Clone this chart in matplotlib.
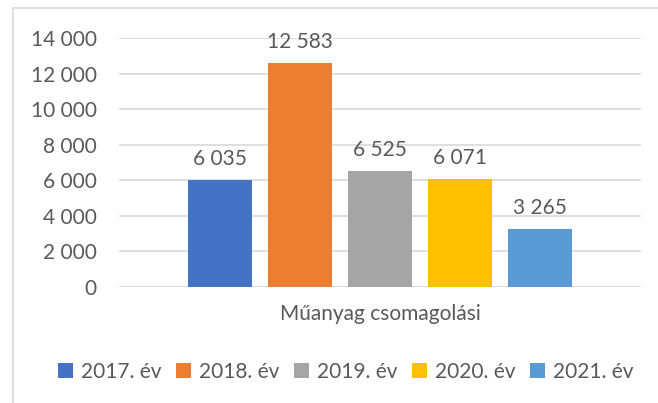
import numpy as np
import matplotlib.pyplot as plt
from matplotlib.patches import Rectangle
from matplotlib.ticker import FuncFormatter

plt.rcParams['font.family'] = ['Lato', 'DejaVu Sans']

# adatok
evek = ['2017. év', '2018. év', '2019. év', '2020. év', '2021. év']
ertekek = [6035, 12583, 6525, 6071, 3265]
kategoria = 'Műanyag csomagolási'
szinek = ['#4472C4', '#ED7D31', '#A5A5A5', '#FFC000', '#5B9BD5']
szoveg = '#595959'
fs = 15


def ezres(v):
    return f'{int(v):,}'.replace(',', ' ')


W, H = 658, 403
fig = plt.figure(figsize=(W / 100, H / 100), dpi=100)
ax = fig.add_axes([119 / W, 1 - 287 / H, (641 - 119) / W, (287 - 38) / H])

lepes = 80 / 522
szel = 64 / 522
for i, (ev, v, c) in enumerate(zip(evek, ertekek, szinek)):
    x = (i - 2) * lepes
    ax.bar(x, v, width=szel, color=c, label=ev, zorder=2)
    ax.annotate(ezres(v), (x, v), xytext=(0, 8), textcoords='offset points',
                ha='center', va='bottom', fontsize=fs, color=szoveg)

ax.set_xlim(-0.5, 0.5)
ax.set_ylim(0, 14000)
ax.set_yticks(np.arange(0, 14001, 2000))
ax.yaxis.set_major_formatter(FuncFormatter(lambda v, p: ezres(v)))
ax.set_xticks([0])
ax.set_xticklabels([kategoria])
ax.tick_params(axis='both', length=0, labelsize=fs, colors=szoveg)
ax.tick_params(axis='y', pad=16)
ax.tick_params(axis='x', pad=12)
ax.grid(axis='y', color='#D9D9D9', linewidth=1.2, zorder=0)
for s in ax.spines.values():
    s.set_visible(False)

fig.legend(loc='center', bbox_to_anchor=(346 / W, 1 - 372 / H), ncol=5,
           frameon=False, fontsize=fs, labelcolor=szoveg,
           handlelength=0.7, handleheight=0.7, handletextpad=0.4,
           columnspacing=0.7)

fig.patches.append(Rectangle((13 / W, -0.1), 1.2, 1 - 8 / H + 0.1,
                             transform=fig.transFigure, fill=False,
                             edgecolor='#D9D9D9', linewidth=1.2))

fig.savefig('out.png', dpi=100)
